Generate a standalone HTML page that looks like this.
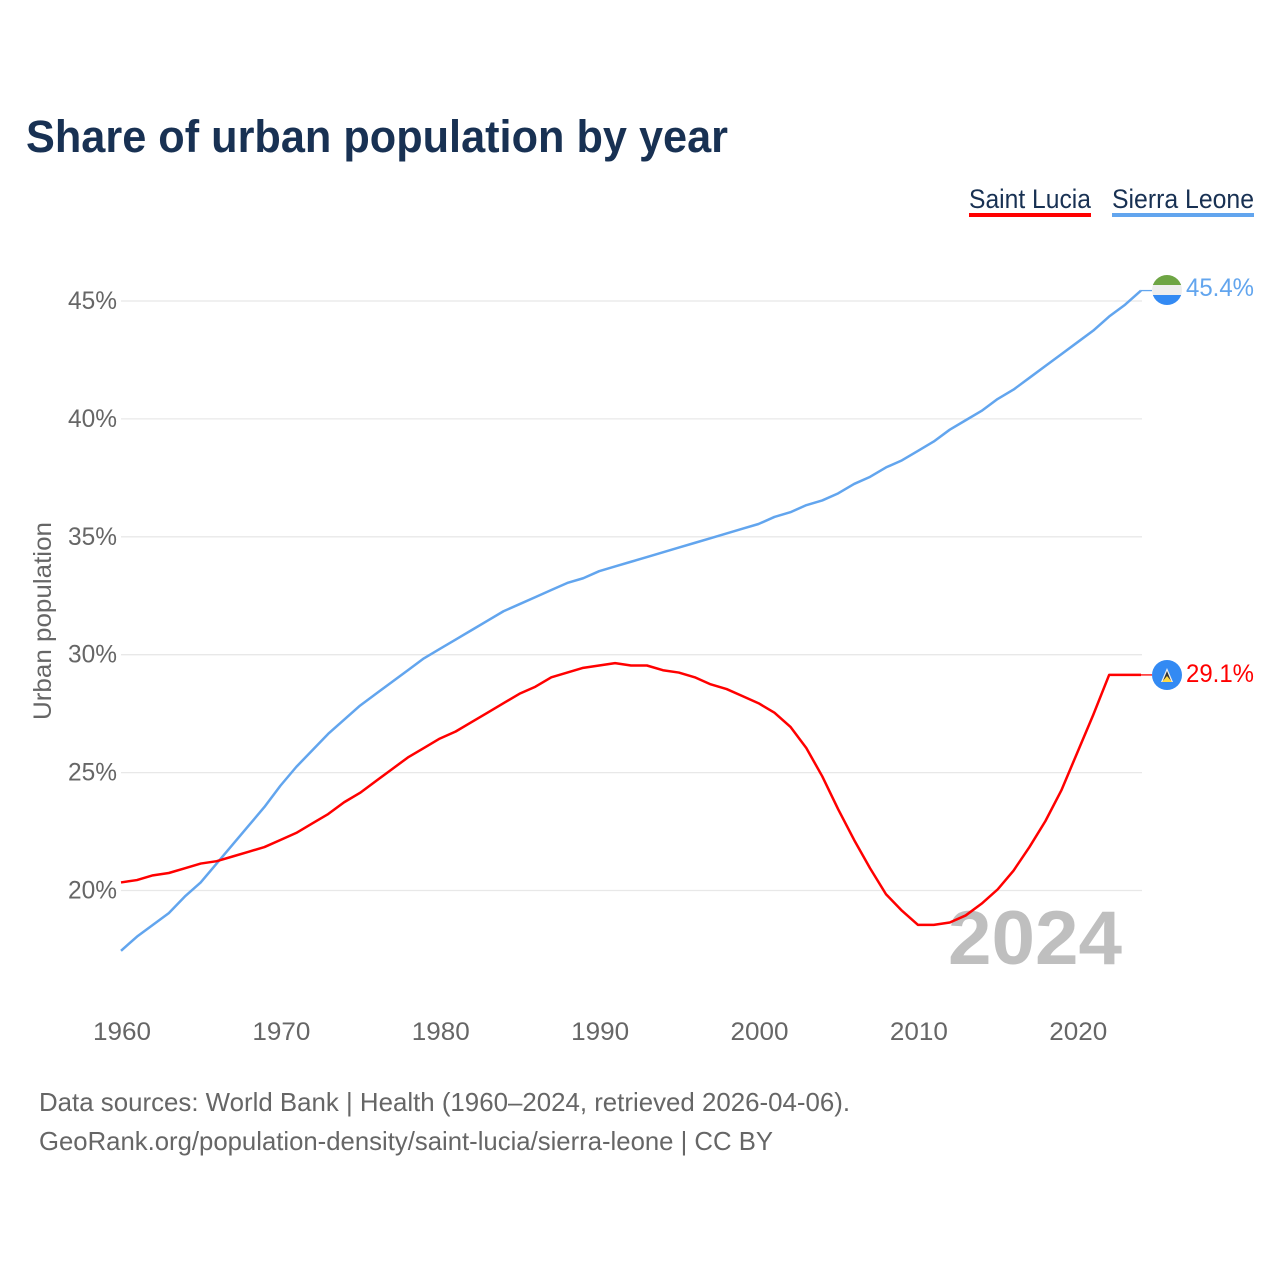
<!DOCTYPE html>
<html lang="en">
<head>
<meta charset="utf-8">
<title>Share of urban population by year</title>
<style>
html,body{margin:0;padding:0;background:#fff;}
svg{display:block;font-family:"Liberation Sans",sans-serif;}
</style>
</head>
<body>
<svg id="chart" xmlns="http://www.w3.org/2000/svg" width="1280" height="1280" viewBox="0 0 1280 1280">
  <defs>
    <clipPath id="flag-clip-sl"><circle cx="1167" cy="290" r="15"/></clipPath>
    <clipPath id="flag-clip-lc"><circle cx="1167" cy="675" r="15"/></clipPath>
  </defs>
  <text x="26" y="152" font-size="45" font-weight="700" fill="#183153" textLength="702" lengthAdjust="spacingAndGlyphs">Share of urban population by year</text>

  <g>
    <text x="969" y="208" font-size="27" fill="#183153" textLength="122" lengthAdjust="spacingAndGlyphs">Saint Lucia</text>
    <rect x="969" y="213" width="122" height="4" fill="#ff0000"/>
  </g>
  <g>
    <text x="1112" y="208" font-size="27" fill="#183153" textLength="142" lengthAdjust="spacingAndGlyphs">Sierra Leone</text>
    <rect x="1112" y="213" width="142" height="4" fill="#62a5ee"/>
  </g>

  <g id="grid"></g>
  <g id="y-ticks"></g>
  <g id="x-ticks"></g>

  <text transform="translate(51,621) rotate(-90)" text-anchor="middle" font-size="25" fill="#666666" textLength="198" lengthAdjust="spacingAndGlyphs">Urban population</text>

  <text x="948" y="964" font-size="76" font-weight="700" fill="#bfbfbf" textLength="174" lengthAdjust="spacingAndGlyphs">2024</text>

  <g id="series" transform="translate(0,-1)"></g>

  <g clip-path="url(#flag-clip-sl)">
    <rect x="1152" y="275" width="30" height="10" fill="#6ea544"/>
    <rect x="1152" y="285" width="30" height="10" fill="#eeeeee"/>
    <rect x="1152" y="295" width="30" height="10" fill="#338af3"/>
  </g>
  <g clip-path="url(#flag-clip-lc)">
    <rect x="1152" y="660" width="30" height="30" fill="#338af3"/>
    <polygon points="1167,668 1173,682 1161,682" fill="#f0f0f0"/>
    <polygon points="1167,671 1171.5,682 1162.5,682" fill="#333333"/>
    <polygon points="1167,676 1172,682 1162,682" fill="#ffda44"/>
  </g>
  <text id="value-label-sl" x="1186" y="296" font-size="25" fill="#62a5ee" textLength="68" lengthAdjust="spacingAndGlyphs">45.4%</text>
  <text id="value-label-lc" x="1186" y="682" font-size="25" fill="#ff0000" textLength="68" lengthAdjust="spacingAndGlyphs">29.1%</text>

  <text x="39" y="1111" font-size="26" fill="#666666" textLength="811" lengthAdjust="spacingAndGlyphs">Data sources: World Bank | Health (1960–2024, retrieved 2026-04-06).</text>
  <text x="39" y="1150" font-size="26" fill="#666666" textLength="734" lengthAdjust="spacingAndGlyphs">GeoRank.org/population-density/saint-lucia/sierra-leone | CC BY</text>
</svg>
<script>
const years = [1960,1961,1962,1963,1964,1965,1966,1967,1968,1969,1970,1971,1972,1973,1974,1975,1976,1977,1978,1979,1980,1981,1982,1983,1984,1985,1986,1987,1988,1989,1990,1991,1992,1993,1994,1995,1996,1997,1998,1999,2000,2001,2002,2003,2004,2005,2006,2007,2008,2009,2010,2011,2012,2013,2014,2015,2016,2017,2018,2019,2020,2021,2022,2023,2024];
const sierraLeone = [17.4,18.0,18.5,19.0,19.7,20.3,21.1,21.9,22.7,23.5,24.4,25.2,25.9,26.6,27.2,27.8,28.3,28.8,29.3,29.8,30.2,30.6,31.0,31.4,31.8,32.1,32.4,32.7,33.0,33.2,33.5,33.7,33.9,34.1,34.3,34.5,34.7,34.9,35.1,35.3,35.5,35.8,36.0,36.3,36.5,36.8,37.2,37.5,37.9,38.2,38.6,39.0,39.5,39.9,40.3,40.8,41.2,41.7,42.2,42.7,43.2,43.7,44.3,44.8,45.4];
const saintLucia = [20.3,20.4,20.6,20.7,20.9,21.1,21.2,21.4,21.6,21.8,22.1,22.4,22.8,23.2,23.7,24.1,24.6,25.1,25.6,26.0,26.4,26.7,27.1,27.5,27.9,28.3,28.6,29.0,29.2,29.4,29.5,29.6,29.5,29.5,29.3,29.2,29.0,28.7,28.5,28.2,27.9,27.5,26.9,26.0,24.8,23.4,22.1,20.9,19.8,19.1,18.5,18.5,18.6,18.9,19.4,20.0,20.8,21.8,22.9,24.2,25.8,27.4,29.1,29.1,29.1];
const yTickValues = [20,25,30,35,40,45];
const xTickValues = [1960,1970,1980,1990,2000,2010,2020];

const SVG_NS = 'http://www.w3.org/2000/svg';
function xScale(year) { return 121 + (year - 1960) * (1020 / 64); }
function yScale(pct) { return 890.5 - (pct - 20) * 23.58; }

const gridGroup = document.getElementById('grid');
const yGroup = document.getElementById('y-ticks');
const xGroup = document.getElementById('x-ticks');
const seriesGroup = document.getElementById('series');

yTickValues.forEach(function (v) {
  const line = document.createElementNS(SVG_NS, 'line');
  
  
  line.setAttribute('x1', 121);
  line.setAttribute('x2', 1142);
  line.setAttribute('y1', yScale(v));
  line.setAttribute('y2', yScale(v));
  line.setAttribute('stroke', '#e8e8e8');
  line.setAttribute('stroke-width', 1.3);
  gridGroup.appendChild(line);

  const label = document.createElementNS(SVG_NS, 'text');
  
  
  label.setAttribute('x', 117);
  label.setAttribute('y', yScale(v) + 8);
  label.setAttribute('text-anchor', 'end');
  label.setAttribute('font-size', 25);
  label.setAttribute('fill', '#666666');
  label.setAttribute('textLength', 49);
  label.setAttribute('lengthAdjust', 'spacingAndGlyphs');
  label.textContent = v + '%';
  yGroup.appendChild(label);
});

xTickValues.forEach(function (v) {
  const label = document.createElementNS(SVG_NS, 'text');
  
  
  label.setAttribute('x', xScale(v) + 1);
  label.setAttribute('y', 1040);
  label.setAttribute('text-anchor', 'middle');
  label.setAttribute('font-size', 25);
  label.setAttribute('fill', '#666666');
  label.setAttribute('textLength', 58);
  label.setAttribute('lengthAdjust', 'spacingAndGlyphs');
  label.textContent = v;
  xGroup.appendChild(label);
});

function linePath(values) {
  return values.map(function (v, i) {
    return (i ? 'L' : 'M') + xScale(years[i]).toFixed(2) + ' ' + yScale(v).toFixed(2);
  }).join(' ');
}

const slLine = document.createElementNS(SVG_NS, 'path');


slLine.setAttribute('d', linePath(sierraLeone));
slLine.setAttribute('fill', 'none');
slLine.setAttribute('stroke', '#62a5ee');
slLine.setAttribute('stroke-width', 2.5);
slLine.setAttribute('stroke-linejoin', 'round');
seriesGroup.appendChild(slLine);

const lcLine = document.createElementNS(SVG_NS, 'path');


lcLine.setAttribute('d', linePath(saintLucia));
lcLine.setAttribute('fill', 'none');
lcLine.setAttribute('stroke', '#ff0000');
lcLine.setAttribute('stroke-width', 2.5);
lcLine.setAttribute('stroke-linejoin', 'round');
seriesGroup.appendChild(lcLine);

const slLast = sierraLeone[sierraLeone.length - 1];
const lcLast = saintLucia[saintLucia.length - 1];
const lastYear = years[years.length - 1];

const slLeader = document.createElementNS(SVG_NS, 'line');


slLeader.setAttribute('x1', xScale(lastYear));
slLeader.setAttribute('x2', 1152);
slLeader.setAttribute('y1', yScale(slLast));
slLeader.setAttribute('y2', yScale(slLast));
slLeader.setAttribute('stroke', '#62a5ee');
slLeader.setAttribute('stroke-width', 1.3);
seriesGroup.appendChild(slLeader);

const lcLeader = document.createElementNS(SVG_NS, 'line');


lcLeader.setAttribute('x1', xScale(lastYear));
lcLeader.setAttribute('x2', 1152);
lcLeader.setAttribute('y1', yScale(lcLast));
lcLeader.setAttribute('y2', yScale(lcLast));
lcLeader.setAttribute('stroke', '#ff0000');
lcLeader.setAttribute('stroke-width', 1.3);
seriesGroup.appendChild(lcLeader);

document.getElementById('value-label-sl').textContent = slLast.toFixed(1) + '%';
document.getElementById('value-label-lc').textContent = lcLast.toFixed(1) + '%';
</script>
</body>
</html>
